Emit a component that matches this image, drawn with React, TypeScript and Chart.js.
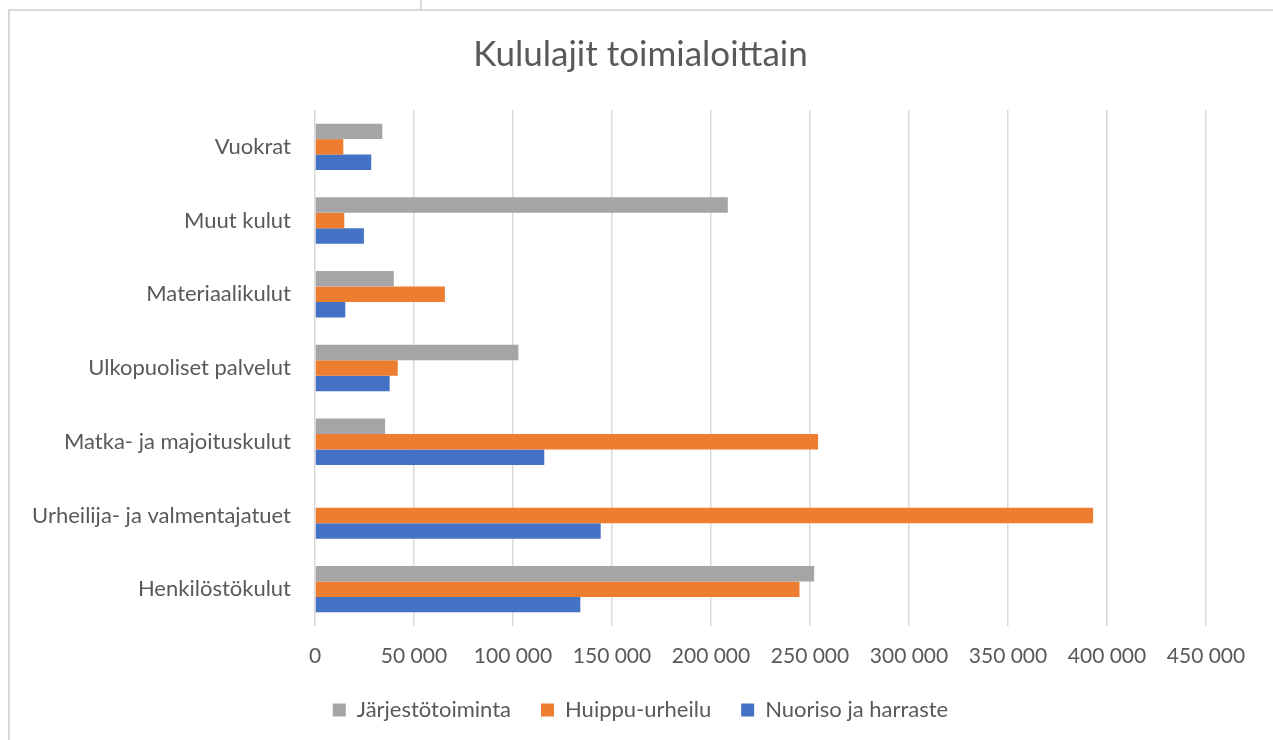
import React, { useEffect, useRef } from "react";
import { Chart, registerables } from "chart.js";

Chart.register(...registerables);

const title = "Kululajit toimialoittain";
const categories = [
  "Vuokrat",
  "Muut kulut",
  "Materiaalikulut",
  "Ulkopuoliset palvelut",
  "Matka- ja majoituskulut",
  "Urheilija- ja valmentajatuet",
  "Henkilöstökulut",
];
const seriesNames = ["Järjestötoiminta", "Huippu-urheilu", "Nuoriso ja harraste"];
const jarjestotoiminta = [34000, 208500, 39800, 102700, 35400, 0, 252100];
const huippuUrheilu = [14300, 14800, 65600, 41800, 254100, 393000, 244700];
const nuorisoJaHarraste = [28400, 24700, 15300, 37700, 115800, 144300, 134000];
const xMax = 450000;
const xStep = 50000;

const colors = ["#A5A5A5", "#ED7D31", "#4472C4"];
const textColor = "#595959";
const FONT = "Lato, 'Noto Sans', sans-serif";

function fmt(v: number): string {
  return String(v).replace(/\B(?=(\d{3})+(?!\d))/g, " ");
}

export default function App() {
  const ref = useRef<HTMLCanvasElement | null>(null);

  useEffect(() => {
    if (!ref.current) return;
    const chart = new Chart(ref.current, {
      type: "bar",
      data: {
        labels: categories,
        datasets: [
          { label: seriesNames[0], data: jarjestotoiminta, backgroundColor: colors[0] },
          { label: seriesNames[1], data: huippuUrheilu, backgroundColor: colors[1] },
          { label: seriesNames[2], data: nuorisoJaHarraste, backgroundColor: colors[2] },
        ],
      },
      options: {
        indexAxis: "y",
        animation: false,
        responsive: true,
        maintainAspectRatio: false,
        datasets: {
          bar: { categoryPercentage: 0.63, barPercentage: 1 },
        },
        layout: { padding: { left: 8, right: 0, top: 0, bottom: 9 } },
        plugins: {
          title: {
            display: true,
            text: title,
            color: textColor,
            font: { family: FONT, size: 35, weight: "normal" },
            padding: { top: 34, bottom: 34 },
          },
          legend: {
            position: "bottom",
            labels: {
              color: textColor,
              font: { family: FONT, size: 22 },
              boxWidth: 13,
              boxHeight: 13,
              padding: 30,
            },
          },
          tooltip: { enabled: false },
        },
        scales: {
          x: {
            min: 0,
            max: xMax,
            ticks: {
              stepSize: xStep,
              color: textColor,
              font: { family: FONT, size: 21 },
              padding: 18,
              maxRotation: 0,
              callback: (v: any) => fmt(Number(v)),
            },
            grid: { color: "#D9D9D9", lineWidth: 1.5, drawTicks: false },
            border: { display: false },
            afterFit: (s: any) => {
              s.height = 43;
            },
          },
          y: {
            ticks: {
              color: textColor,
              font: { family: FONT, size: 22 },
              padding: 16,
            },
            grid: { display: false },
            border: { display: false },
            afterFit: (s: any) => {
              s.width = 307;
            },
          },
          yRight: {
            type: "linear",
            position: "right",
            display: true,
            ticks: { display: false },
            grid: { display: false },
            border: { display: false },
            afterFit: (s: any) => {
              s.width = 67;
            },
          },
        },
      },
    });
    return () => chart.destroy();
  }, []);

  return (
    <div
      style={{
        position: "fixed",
        left: 0,
        top: 0,
        width: 1273,
        height: 740,
        overflow: "hidden",
        background: "#ffffff",
      }}
    >
      <div
        style={{
          position: "absolute",
          left: 8,
          top: 9,
          width: 1300,
          height: 800,
          border: "2px solid #D9D9D9",
        }}
      />
      <div
        style={{
          position: "absolute",
          left: 420,
          top: 0,
          width: 2,
          height: 9,
          background: "#D9D9D9",
        }}
      />
      <div style={{ position: "absolute", left: 0, top: 0, width: 1273, height: 740 }}>
        <canvas ref={ref} />
      </div>
    </div>
  );
}
